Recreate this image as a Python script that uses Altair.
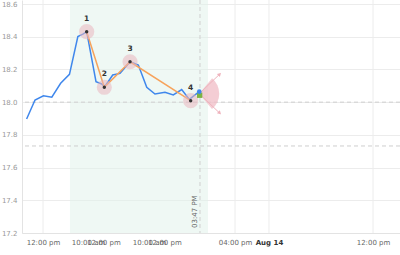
import altair as alt
import pandas as pd

# ---- data ----
blue_t = [0.55, 1.55, 2.55, 3.55, 4.6, 5.65, 6.65, 7.3, 7.7, 8.81, 9.49, 9.85, 10.8, 11.67,
          12.86, 13.85, 14.85, 15.83, 17.02, 18.01, 19.01, 19.92, 20.6, 21.1]
blue_v = [17.897, 18.013, 18.039, 18.030, 18.115, 18.170, 18.401, 18.417, 18.431, 18.125, 18.111,
          18.094, 18.166, 18.176, 18.247, 18.227, 18.091, 18.050, 18.060, 18.044, 18.077, 18.017,
          18.044, 18.064]

ann_id = ["1", "2", "3", "4"]
ann_t = [7.70, 9.80, 12.86, 20.08]
ann_v = [18.431, 18.091, 18.247, 18.009]

tick_t = [2.5, 7.86, 9.7, 15.12, 16.96, 25.36, 29.4, 41.79]
tick_labels = ["12:00 pm", "10:00 am", "12:00 pm", "10:00 am", "12:00 pm", "04:00 pm", "Aug 14", "12:00 pm"]
grid_t = [2.5, 25.36, 29.4, 41.79]
bold_tick = 29.4

y_ticks = [17.2, 17.4, 17.6, 17.8, 18.0, 18.2, 18.4, 18.6]
hline_v = [18.0, 17.732]
now_t = [21.19]
now_label = ["03:47 PM"]
shade_start = [5.71]
shade_end = [22.14]
last_t = [21.1]
last_v = [18.064]
sq_t = [21.15]
sq_v = [18.042]
fan_t = [21.1]
fan_v = [18.052]

# ---- tables ----
blue_df = pd.DataFrame({"t": blue_t, "v": blue_v})
ann_df = pd.DataFrame({"id": ann_id, "t": ann_t, "v": ann_v})
grid_df = pd.DataFrame({"t": grid_t})
hl_df = pd.DataFrame({"v": hline_v})
now_df = pd.DataFrame({"t": now_t, "label": now_label, "v": [17.2]})
shade_df = pd.DataFrame({"t": shade_start, "t2": shade_end})
last_df = pd.DataFrame({"t": last_t, "v": last_v})
sq_df = pd.DataFrame({"t": sq_t, "v": sq_v})
fan_df = pd.DataFrame({"t": fan_t, "v": fan_v})

xs = alt.Scale(domain=[0, 45], nice=False, zero=False)
ys = alt.Scale(domain=[17.2, 18.6245], nice=False, zero=False)

label_expr = "''"
for tv, lab in zip(reversed(tick_t), reversed(tick_labels)):
    label_expr = f"datum.value == {tv} ? '{lab}' : ({label_expr})"

FONT = "DejaVu Sans"

x_axis = alt.Axis(values=tick_t, labelExpr=label_expr, grid=False, ticks=False,
                  domainColor="#e3e3e3", labelFontSize=7, labelFont=FONT,
                  labelColor={"condition": {"test": f"datum.value == {bold_tick}", "value": "#333333"}, "value": "#666666"},
                  labelFontWeight={"condition": {"test": f"datum.value == {bold_tick}", "value": "bold"}, "value": "normal"},
                  labelPadding=5, labelOverlap=False, labelFlush=False, title=None)
y_axis = alt.Axis(values=y_ticks, format=".1f", grid=True, gridColor="#ececec", ticks=False,
                  domainColor="#e3e3e3", labelFontSize=7, labelFont=FONT, labelColor="#999999",
                  labelPadding=5, title=None)

X = lambda f="t": alt.X(f"{f}:Q", scale=xs, axis=x_axis)
Y = lambda f="v": alt.Y(f"{f}:Q", scale=ys, axis=y_axis)

shade = alt.Chart(shade_df).mark_rect(color="#dff1e9", opacity=0.5).encode(x=X(), x2="t2:Q")

vgrid = alt.Chart(grid_df).mark_rule(color="#ececec", strokeWidth=1).encode(x=X())

hlines = alt.Chart(hl_df).mark_rule(color="#cfcfcf", strokeDash=[4, 3], strokeWidth=1).encode(y=Y())

vline = alt.Chart(now_df).mark_rule(color="#cfcfcf", strokeDash=[4, 3], strokeWidth=1).encode(x=X())

now_text = alt.Chart(now_df).mark_text(angle=270, align="left", baseline="bottom", dx=5, dy=-2,
                                       fontSize=7, font=FONT, color="#666666").encode(
    x=X(), y=Y(), text="label:N")

blue = alt.Chart(blue_df).mark_line(color="#3f87ec", strokeWidth=1.5).encode(x=X(), y=Y())

orange = alt.Chart(ann_df).mark_line(color="#f7a35c", strokeWidth=1.5).encode(x=X(), y=Y())

halo = alt.Chart(ann_df).mark_point(filled=True, color="#e9b7c0", opacity=0.55, size=230).encode(x=X(), y=Y())
dots = alt.Chart(ann_df).mark_point(filled=True, color="#333333", opacity=1, size=12).encode(x=X(), y=Y())
nums = alt.Chart(ann_df).mark_text(dy=-13, fontSize=7.5, fontWeight="bold", font=FONT, color="#333333").encode(
    x=X(), y=Y(), text="id:N")

fan = alt.Chart(fan_df).mark_arc(theta=0.7, theta2=2.45, outerRadius=20, innerRadius=0,
                                 color="#f0bcc5", opacity=0.75).encode(x=X(), y=Y())
arrow_up = alt.Chart(fan_df).mark_rule(color="#efb3bd", strokeWidth=1, x2Offset=21, y2Offset=-20).encode(
    x=X(), x2="t:Q", y=Y(), y2="v:Q")
arrow_dn = alt.Chart(fan_df).mark_rule(color="#efb3bd", strokeWidth=1, x2Offset=21, y2Offset=20).encode(
    x=X(), x2="t:Q", y=Y(), y2="v:Q")
head_up = alt.Chart(fan_df).mark_point(shape="triangle", filled=True, color="#efb3bd", opacity=1,
                                       size=18, angle=45, xOffset=20, yOffset=-19).encode(x=X(), y=Y())
head_dn = alt.Chart(fan_df).mark_point(shape="triangle", filled=True, color="#efb3bd", opacity=1,
                                       size=18, angle=135, xOffset=20, yOffset=19).encode(x=X(), y=Y())

sq = alt.Chart(sq_df).mark_point(shape="square", filled=True, color="#7cb342", opacity=1, size=28).encode(x=X(), y=Y())
last = alt.Chart(last_df).mark_point(shape="circle", filled=True, color="#3f87ec", opacity=1, size=22).encode(x=X(), y=Y())

chart = alt.layer(
    shade, vgrid, hlines, vline, now_text, fan, arrow_up, arrow_dn, head_up, head_dn,
    blue, orange, halo, dots, nums, sq, last
).properties(
    width=378, height=233, autosize="none",
    padding={"left": 22, "top": 0, "right": 0, "bottom": 22},
    background="white"
).configure_view(stroke=None)

chart.save("out.html", embed_options={"renderer": "svg", "actions": False})
